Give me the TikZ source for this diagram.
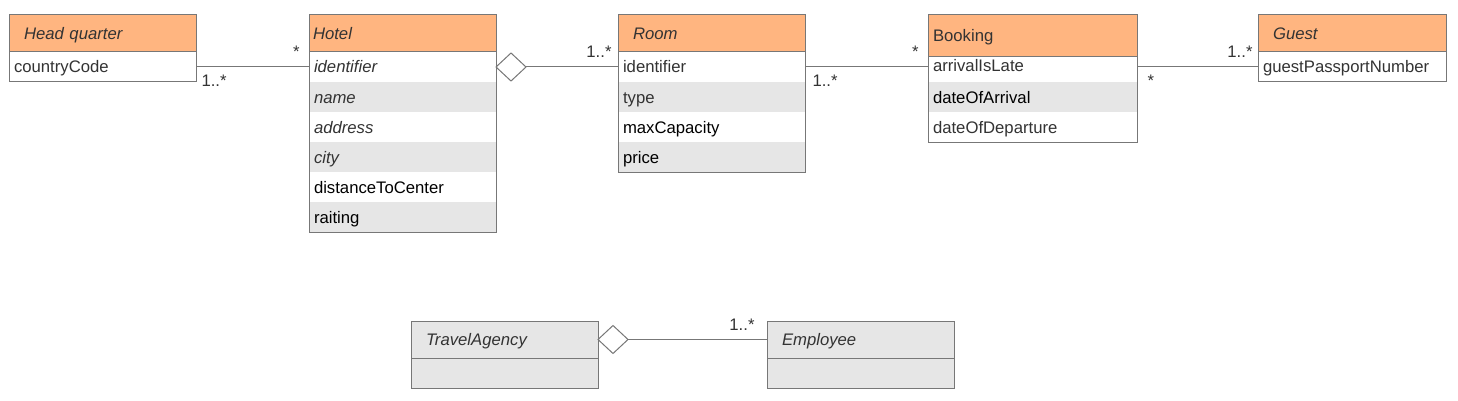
\documentclass[tikz,border=0pt]{standalone}
\usepackage{fontspec}
\setmainfont{Liberation Sans}
\usetikzlibrary{shapes.geometric, positioning}
\definecolor{headOrange}{HTML}{FFB580}
\definecolor{rowGrey}{HTML}{E6E6E6}
\definecolor{lineGrey}{HTML}{777777}
\definecolor{textGrey}{HTML}{333333}
\newcommand{\classfont}{\fontsize{16.7}{20}\selectfont}
\tikzstyle{head} = [anchor=north west, draw=lineGrey, fill=headOrange, line width=1pt, minimum height=37pt, inner xsep=15pt, inner ysep=0pt, outer sep=0pt, text width=157pt, text height=12pt, text depth=0pt, align=left, text=textGrey, font=\classfont\itshape]
\tikzstyle{row} = [fill=white, minimum height=30pt, inner xsep=5pt, inner ysep=0pt, outer sep=0pt, text width=177pt, text height=12pt, text depth=0pt, align=left, text=textGrey, font=\classfont]
\tikzstyle{rowalt} = [row, fill=rowGrey]
\tikzstyle{frame} = [draw=lineGrey, line width=1pt]
\tikzstyle{assoc} = [draw=lineGrey, line width=1pt]
\tikzstyle{agg} = [diamond, draw=lineGrey, fill=white, line width=1pt, minimum width=30pt, minimum height=28pt, inner sep=0pt, outer sep=0pt]
\tikzstyle{multLo} = [anchor=north west, inner sep=0pt, text height=12pt, text depth=0pt, xshift=5pt, yshift=-7pt, text=textGrey, font=\classfont]
\tikzstyle{multHi} = [anchor=south east, inner sep=0pt, text height=12pt, text depth=0pt, xshift=-7pt, yshift=9pt, text=textGrey, font=\classfont]
\begin{document}
\begin{tikzpicture}[x=1pt, y=1pt]
\useasboundingbox (0,0) rectangle (1458,-401);
% Head quarter
\node (hqHead) [head] at (9,-15) {Head quarter};
\node (hq1) [row, below=0pt of hqHead] {countryCode};
\draw [frame] (hqHead.north west) rectangle (hq1.south east) (hqHead.south west) -- (hqHead.south east);
% Hotel
\node (hotelHead) [head, inner xsep=4pt, text width=179pt] at (309,-15) {Hotel};
\node (hotel1) [row, below=0pt of hotelHead] {\itshape identifier};
\node (hotel2) [rowalt, below=0pt of hotel1] {\itshape name};
\node (hotel3) [row, below=0pt of hotel2] {\itshape address};
\node (hotel4) [rowalt, below=0pt of hotel3] {\itshape city};
\node (hotel5) [row, text=black, below=0pt of hotel4] {distanceToCenter};
\node (hotel6) [rowalt, text=black, below=0pt of hotel5] {raiting};
\draw [frame] (hotelHead.north west) rectangle (hotel6.south east) (hotelHead.south west) -- (hotelHead.south east);
% Room
\node (roomHead) [head] at (618,-15) {Room};
\node (room1) [row, below=0pt of roomHead] {identifier};
\node (room2) [rowalt, below=0pt of room1] {type};
\node (room3) [row, text=black, below=0pt of room2] {maxCapacity};
\node (room4) [rowalt, text=black, below=0pt of room3] {price};
\draw [frame] (roomHead.north west) rectangle (room4.south east) (roomHead.south west) -- (roomHead.south east);
% Booking
\node (bookHead) [head, minimum height=42pt, inner xsep=5pt, text width=199pt, font=\classfont] at (928,-15) {Booking};
\node (book1) [row, minimum height=25pt, text depth=7pt, text width=199pt, below=0pt of bookHead] {arrivalIsLate};
\node (book2) [rowalt, text width=199pt, text=black, below=0pt of book1] {dateOfArrival};
\node (book3) [row, text width=199pt, below=0pt of book2] {dateOfDeparture};
\draw [frame] (bookHead.north west) rectangle (book3.south east) (bookHead.south west) -- (bookHead.south east);
% Guest
\node (guestHead) [head, text width=158pt] at (1258,-15) {Guest};
\node (guest1) [row, text width=178pt, below=0pt of guestHead] {guestPassportNumber};
\draw [frame] (guestHead.north west) rectangle (guest1.south east) (guestHead.south west) -- (guestHead.south east);
% TravelAgency and Employee
\node (agencyHead) [head, fill=rowGrey] at (411,-321) {TravelAgency};
\node (agency1) [rowalt, below=0pt of agencyHead] {};
\draw [frame] (agencyHead.north west) rectangle (agency1.south east) (agencyHead.south west) -- (agencyHead.south east);
\node (empHead) [head, fill=rowGrey] at (767,-321) {Employee};
\node (emp1) [rowalt, below=0pt of empHead] {};
\draw [frame] (empHead.north west) rectangle (emp1.south east) (empHead.south west) -- (empHead.south east);
% aggregation diamonds
\node (hotelAgg) [agg, right=0pt of hotel1] {};
\node (agencyAgg) [agg, right=0pt of agencyHead] {};
% associations
\draw [assoc] (hq1.east) -- node [multLo, at start] (hqMult) {1..*} node [multHi, at end, xshift=-2pt] (hotelMultA) {*} (hotel1.west);
\draw [assoc] (hotelAgg.east) -- node [multHi, at end, xshift=1pt] (roomMultA) {1..*} (room1.west);
\draw [assoc] (room1.east) -- node [multLo, at start, xshift=2pt] (roomMultB) {1..*} node [multHi, at end, xshift=-2pt] (bookMultA) {*} (room1.east -| bookHead.west);
\draw [assoc] (guest1.west -| bookHead.east) -- node [multLo, at start, xshift=5pt] (bookMultB) {*} node [multHi, at end, xshift=2pt] (guestMult) {1..*} (guest1.west);
\draw [assoc] (agencyAgg.east) -- node [multHi, at end, xshift=-5pt] (empMult) {1..*} (empHead.west);
\end{tikzpicture}
\end{document}
